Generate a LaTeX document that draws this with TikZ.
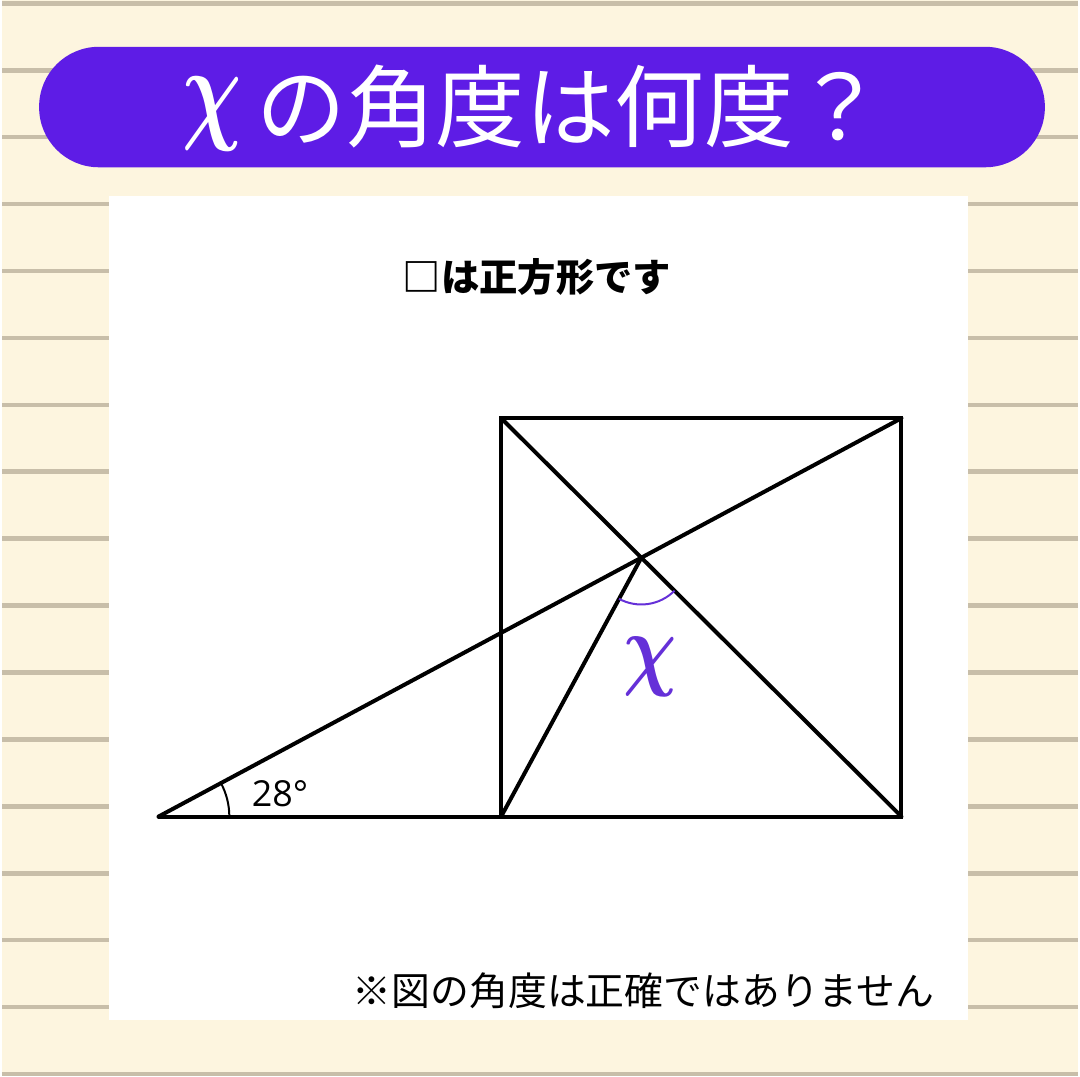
\documentclass[tikz,border=0pt]{standalone}
\usepackage{fontspec}
\usepackage{graphicx}
\newfontfamily\jpfont{Noto Sans CJK JP}
\newfontfamily\numfont{Open Sans}
\usetikzlibrary{angles}

\definecolor{paper}{HTML}{FDF5DF}
\definecolor{ruleline}{HTML}{C8BEA9}
\definecolor{bannerviolet}{HTML}{5E1CE6}
\definecolor{markviolet}{HTML}{6530D8}

\begin{document}
\begin{tikzpicture}[x=1pt, y=1pt,
  banner/.style={fill=bannerviolet, rounded corners=60pt, minimum width=1010pt,
                 minimum height=121pt, inner sep=0pt},
  figline/.style={draw=black, line width=4pt, line cap=round, line join=miter},
  markarc/.style={draw, line width=2pt, angle radius=71pt},
  every node/.style={font=\jpfont, inner sep=0pt}
]

% ==========================================================
% Paper
% ==========================================================
\fill[paper] (0,0) rectangle (1080,1080);
\foreach \k in {0,...,16}
  \draw[ruleline, line width=4.6pt] (0,1076.6-67.2*\k) -- (1080,1076.6-67.2*\k);
\useasboundingbox (0,0) rectangle (1080,1080);

% ==========================================================
% Title and panel
% ==========================================================
\node[banner] (Banner) at (542,972.5) {};
\node[text=white, font=\jpfont\fontsize{90}{90}\selectfont] (Title) at (533,972)
  {\raisebox{12pt}{\scalebox{4.0}[5.6]{\huge\boldmath$\chi$}}\,の角度は何度？};
\fill[white] (107,56) rectangle (970,883);
\node[font=\jpfont\bfseries\fontsize{38.5}{38.5}\selectfont] (Given) at (537,802) {□は正方形です};
\node[font=\jpfont\fontsize{39}{39}\selectfont] (Note) at (644,85) {※図の角度は正確ではありません};

% ==========================================================
% Figure
% ==========================================================
\coordinate (A) at (157,260);
\coordinate (B) at (501,260);
\coordinate (C) at (903,260);
\coordinate (D) at (903,660);
\coordinate (E) at (501,660);
\coordinate (P) at (intersection of A--D and E--C);

\draw[figline] (B) rectangle (D);
\draw[figline] (E) -- (C);
\draw[figline] (A) -- (B);
\draw[figline] (A) -- (D);
\draw[figline] (B) -- (P);

\pic[markarc, draw=black] {angle = B--A--D};
\pic[markarc, draw=markviolet, angle radius=47pt] {angle = B--P--C};

\node[font=\numfont\fontsize{36}{36}\selectfont] (Given28) at (279,283) {28°};
\node[text=markviolet] (X) at (651,410) {\scalebox{3.6}[4.5]{\huge\boldmath$\chi$}};

\end{tikzpicture}
\end{document}
